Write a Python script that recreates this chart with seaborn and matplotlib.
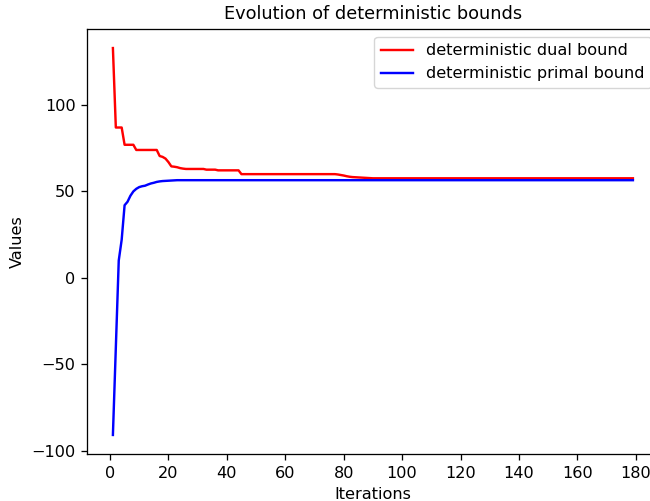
import matplotlib
matplotlib.use('Agg')
import matplotlib.pyplot as plt
import seaborn as sns
import pandas as pd

# iteration index and the two bound series
iterations = list(range(1, 180))

dual_bound = ([133.0] + [87.0] * 3 + [77.0] * 4 + [74.0] * 8
              + [70.5, 70.0, 69.0, 67.0, 64.5, 64.3, 64.0, 63.5, 63.2]
              + [63.0] * 7 + [62.6] * 4 + [62.2] * 8 + [60.0] * 33
              + [59.8, 59.5, 59.2, 58.8, 58.5, 58.3, 58.2, 58.1, 58.0, 57.9, 57.8, 57.7]
              + [57.6] * 90)

primal_bound = ([-91.0, -40.0, 10.0, 22.0, 42.0, 44.0, 47.5, 50.0, 51.5, 52.5, 53.0,
                 53.3, 54.0, 54.6, 55.0, 55.5, 55.8, 56.0, 56.1, 56.2, 56.3, 56.4]
                + [56.5] * 157)

x_ticks = [0, 20, 40, 60, 80, 100, 120, 140, 160, 180]

df = pd.DataFrame({'iteration': iterations, 'dual': dual_bound, 'primal': primal_bound})

# original looks like it was saved at a higher dpi, so scale everything up a bit
s = 1.16
plt.rcParams.update({
    'font.size': 10 * s,
    'axes.titlesize': 12.8,
    'lines.linewidth': 1.5 * s,
    'axes.linewidth': 0.8 * s,
    'xtick.major.size': 3.5 * s,
    'ytick.major.size': 3.5 * s,
    'xtick.major.width': 0.8 * s,
    'ytick.major.width': 0.8 * s,
    'xtick.major.pad': 3.5 * s,
    'ytick.major.pad': 3.5 * s,
    'axes.titlepad': 6 * s,
    'axes.labelpad': 4 * s,
})

fig = plt.figure(figsize=(6.5, 5.01), dpi=100)
ax = fig.add_axes([0.1337, 0.0932, 0.880, 0.8495])

sns.lineplot(data=df, x='iteration', y='dual', color='red', label='deterministic dual bound', ax=ax)
sns.lineplot(data=df, x='iteration', y='primal', color='blue', label='deterministic primal bound', ax=ax)

ax.set_xticks(x_ticks)
ax.set_title('Evolution of deterministic bounds')
ax.set_xlabel('Iterations')
ax.set_ylabel('Values')
ax.legend(loc='upper right')

fig.savefig('out.png', dpi=100)
